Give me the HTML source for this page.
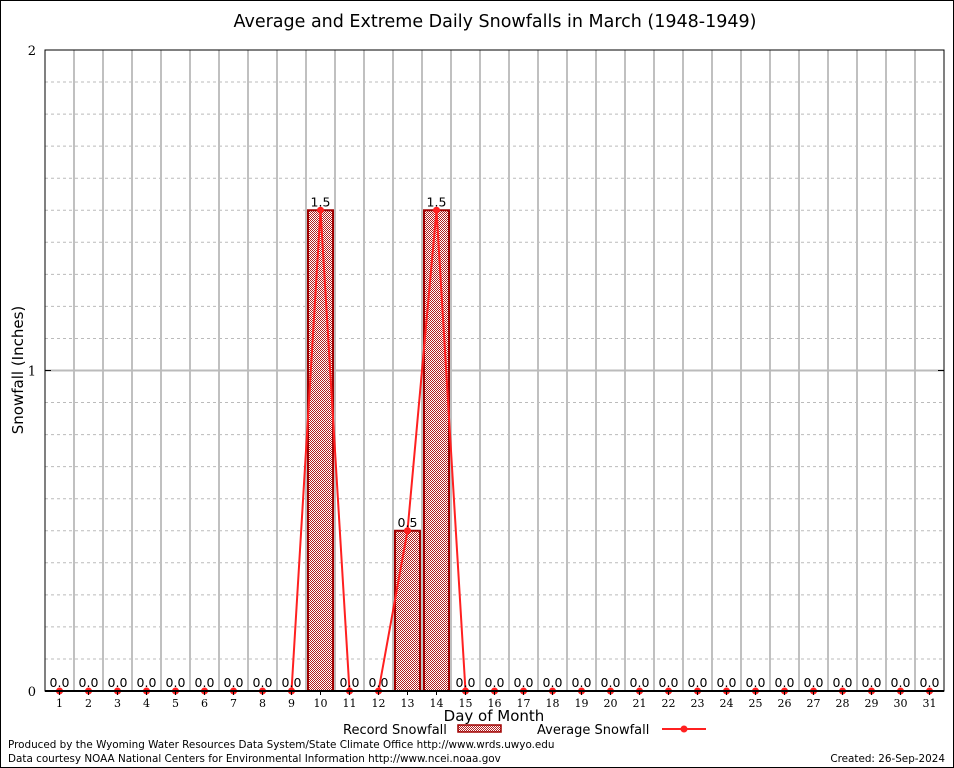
<!DOCTYPE html>
<html><head><meta charset="utf-8"><style>
body{margin:0;background:#fff}
svg{display:block}
.s{font-family:"DejaVu Sans","Liberation Sans",sans-serif}
.r{font-family:"DejaVu Serif","Liberation Serif",serif}
</style></head><body>
<svg id="c" width="954" height="768" xmlns="http://www.w3.org/2000/svg">
<defs><pattern id="chk" width="2" height="2" patternUnits="userSpaceOnUse"><rect width="2" height="2" fill="#fff"/><rect width="1" height="1" fill="#b02020"/><rect x="1" y="1" width="1" height="1" fill="#b02020"/></pattern></defs>
<rect x="0.5" y="0.5" width="953" height="767" fill="#fff" stroke="#000"/>
<text class="s" x="495" y="27" font-size="17.5" text-anchor="middle">Average and Extreme Daily Snowfalls in March (1948-1949)</text>
<g id="grid"></g><g id="bars"></g><g id="line"></g><g id="labels"></g><g id="axes"></g>
<text class="s" transform="translate(23,370) rotate(-90)" font-size="15" text-anchor="middle">Snowfall (Inches)</text>
<text class="s" x="494" y="721" font-size="15" text-anchor="middle">Day of Month</text>
<g><text class="s" x="343" y="734" font-size="13">Record Snowfall</text><rect x="458" y="725" width="43" height="7" fill="url(#chk)" stroke="#a00000" stroke-width="1.5"/></g>
<g><text class="s" x="537" y="734" font-size="13">Average Snowfall</text><line x1="662" y1="729" x2="706" y2="729" stroke="#ff2020" stroke-width="2"/><circle cx="684" cy="729" r="3.5" fill="#ff2020"/></g>
<text class="s" x="8" y="748" font-size="10.4">Produced by the Wyoming Water Resources Data System/State Climate Office http://www.wrds.uwyo.edu</text>
<text class="s" x="8" y="762" font-size="10.4">Data courtesy NOAA National Centers for Environmental Information http://www.ncei.noaa.gov</text>
<text class="s" x="945" y="762" font-size="10.4" text-anchor="end">Created: 26-Sep-2024</text>
</svg>
<script>
const days=[1,2,3,4,5,6,7,8,9,10,11,12,13,14,15,16,17,18,19,20,21,22,23,24,25,26,27,28,29,30,31];
const recordSnow=[0,0,0,0,0,0,0,0,0,1.5,0,0,0.5,1.5,0,0,0,0,0,0,0,0,0,0,0,0,0,0,0,0,0];
const avgSnow=[0,0,0,0,0,0,0,0,0,1.5,0,0,0.5,1.5,0,0,0,0,0,0,0,0,0,0,0,0,0,0,0,0,0];
const yTicks=[0,1,2];
const NS="http://www.w3.org/2000/svg";
const L=45,R=944,T=50,B=691;
const x=d=>L+(d-0.5)*(R-L)/31;
const y=v=>B-v*(B-T)/2;
function mk(p,t,a){const e=document.createElementNS(NS,t);for(const k in a)e.setAttribute(k,a[k]);document.getElementById(p).appendChild(e);return e;}
for(let i=1;i<20;i++){if(i===10)continue;const g=mk('grid','line',{x1:L,x2:R,y1:y(i/10),y2:y(i/10),stroke:'#bbb','stroke-dasharray':'3,3'});

}
for(let k=1;k<31;k++){const g=mk('grid','line',{x1:x(k+0.5),x2:x(k+0.5),y1:T,y2:B,stroke:'#c0c0c0','stroke-width':2});

}
const g1=mk('grid','line',{x1:L,x2:R,y1:y(1),y2:y(1),stroke:'#bbb','stroke-width':2});


days.forEach((d,i)=>{const v=recordSnow[i];if(v>0){const b=mk('bars','rect',{x:x(d)-12.5,y:y(v),width:25,height:B-y(v),fill:'url(#chk)',stroke:'#a00000','stroke-width':2});

}
const t=mk('labels','text',{x:x(d),y:y(v)-4,'font-size':12.5,'text-anchor':'middle',class:'s'});t.textContent=v.toFixed(1);

});
const pl=mk('line','polyline',{points:days.map((d,i)=>x(d)+','+y(avgSnow[i])).join(' '),fill:'none',stroke:'#ff2020','stroke-width':2});


days.forEach((d,i)=>{const c=mk('line','circle',{cx:x(d),cy:y(avgSnow[i]),r:3.5,fill:'#ff2020'});


const t=mk('axes','text',{x:x(d),y:B+16,'font-size':11,'text-anchor':'middle',class:'r'});t.textContent=d;


const tk=mk('axes','line',{x1:x(d),x2:x(d),y1:B,y2:B+4,stroke:'#000'});

});
yTicks.forEach(v=>{const t=mk('axes','text',{x:36,y:y(v)+5,'font-size':13,'text-anchor':'end',class:'r'});t.textContent=v;


const tk=mk('axes','line',{x1:L,x2:L+6,y1:y(v),y2:y(v),stroke:'#000'});


const tr=mk('axes','line',{x1:R-6,x2:R,y1:y(v),y2:y(v),stroke:'#000'});

});
const f=mk('axes','rect',{x:L,y:T,width:R-L,height:B-T,fill:'none',stroke:'#000','stroke-width':1});


const ax=mk('axes','line',{x1:L,x2:R,y1:B,y2:B,stroke:'#000','stroke-width':2});


</script>
</body></html>
